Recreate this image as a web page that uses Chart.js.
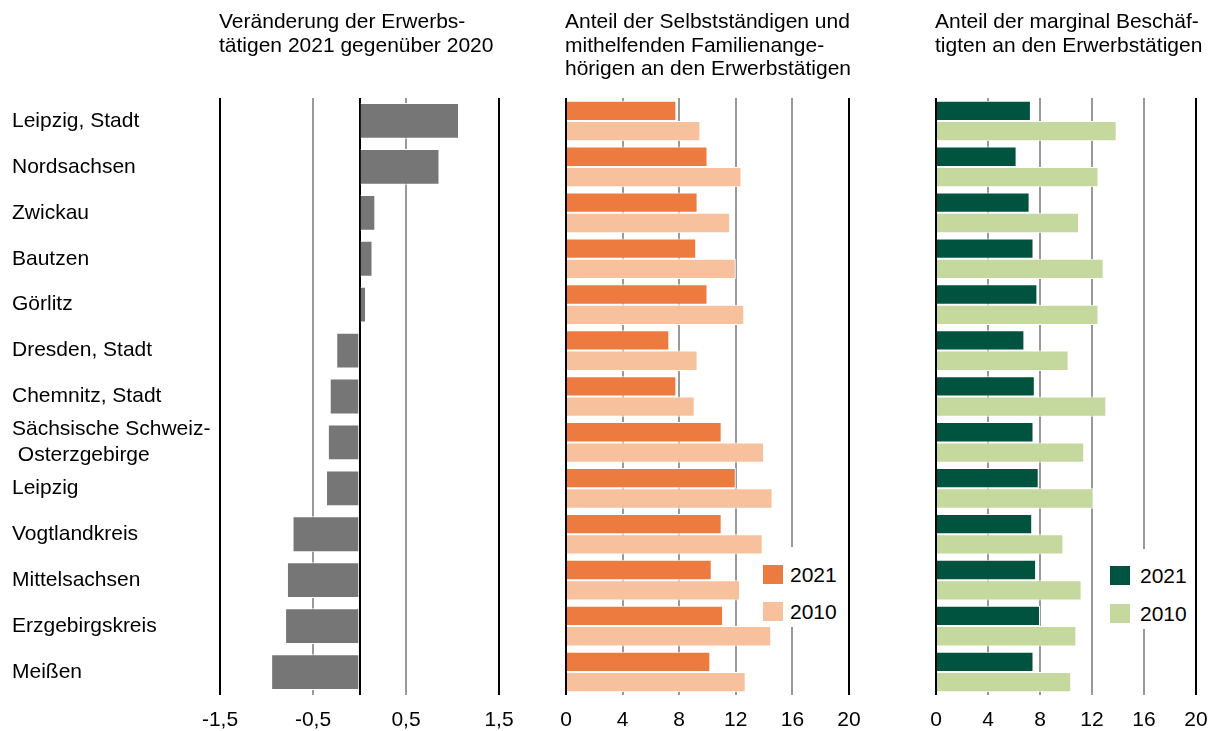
<!DOCTYPE html>
<html lang="de">
<head>
<meta charset="utf-8">
<title>Erwerbstätige in den Kreisen Sachsens</title>
<script src="https://cdn.jsdelivr.net/npm/chart.js@4.4.1/dist/chart.umd.min.js"></script>
<style>
  html, body { margin: 0; padding: 0; background: #fff; }
  #wrap { position: relative; width: 1213px; height: 731px; overflow: hidden;
          font-family: "Liberation Sans", Arial, sans-serif; color: #000; }
  .panel { position: absolute; top: 0; height: 731px; }
  .title { position: absolute; top: 9px; font-size: 21px; line-height: 23.5px; white-space: nowrap; }
  .legend { position: absolute; background: #fff; font-size: 21px; }
  .legend .item { position: absolute; height: 20px; line-height: 20px; white-space: nowrap; }
  .legend .box { display: inline-block; width: 20px; height: 19px; vertical-align: top; }
</style>
</head>
<body>
<div id="wrap">
  <div class="panel" style="left:0;width:520px"><canvas id="c1"></canvas></div>
  <div class="panel" style="left:540px;width:330px"><canvas id="c2"></canvas></div>
  <div class="panel" style="left:910px;width:303px"><canvas id="c3"></canvas></div>
</div>
<script>
(function () {
  'use strict';

  var categories = ['Leipzig, Stadt', 'Nordsachsen', 'Zwickau', 'Bautzen', 'Görlitz', 'Dresden, Stadt',
    'Chemnitz, Stadt', ['Sächsische Schweiz-', ' Osterzgebirge'], 'Leipzig', 'Vogtlandkreis',
    'Mittelsachsen', 'Erzgebirgskreis', 'Meißen'];

  // Veränderung der Erwerbstätigen 2021 gegenüber 2020 (%)
  var change2021 = [1.07, 0.86, 0.17, 0.14, 0.07, -0.25, -0.32, -0.34, -0.36, -0.72, -0.78, -0.80, -0.95];
  // Anteil Selbstständige und mithelfende Familienangehörige (%)
  var selfEmp2021 = [7.8, 10.0, 9.3, 9.2, 10.0, 7.3, 7.8, 11.0, 12.0, 11.0, 10.3, 11.1, 10.2];
  var selfEmp2010 = [9.5, 12.4, 11.6, 12.0, 12.6, 9.3, 9.1, 14.0, 14.6, 13.9, 12.3, 14.5, 12.7];
  // Anteil marginal Beschäftigte (%)
  var marginal2021 = [7.3, 6.2, 7.2, 7.5, 7.8, 6.8, 7.6, 7.5, 7.9, 7.4, 7.7, 8.0, 7.5];
  var marginal2010 = [13.9, 12.5, 11.0, 12.9, 12.5, 10.2, 13.1, 11.4, 12.1, 9.8, 11.2, 10.8, 10.4];

  var changeTicks = [-1.5, -0.5, 0, 0.5, 1.5];
  var shareTicks = [0, 4, 8, 12, 16, 20];

  var titles = [
    ['Veränderung der Erwerbs-', 'tätigen 2021 gegenüber 2020'],
    ['Anteil der Selbstständigen und', 'mithelfenden Familienange-', 'hörigen an den Erwerbstätigen'],
    ['Anteil der marginal Beschäf-', 'tigten an den Erwerbstätigen']
  ];

  var FONT = '"Liberation Sans", Arial, sans-serif';
  var GRID_GRAY = '#999999';

  Chart.defaults.font.family = FONT;
  Chart.defaults.color = '#000';

  function fmt(v) { return String(v).replace('.', ','); }

  function xScale(min, max, ticks, strong, hideZero) {
    return {
      type: 'linear',
      min: min,
      max: max,
      afterBuildTicks: function (s) { s.ticks = ticks.map(function (v) { return { value: v }; }); },
      afterFit: function (s) {
        s.height = 36;
        s.paddingLeft = 0;
        s.paddingRight = 0;
      },
      border: { display: false },
      grid: {
        drawTicks: false,
        lineWidth: 2,
        color: function (ctx) { return strong.indexOf(ctx.tick.value) >= 0 ? '#000' : GRID_GRAY; }
      },
      ticks: {
        padding: 13,
        autoSkip: false,
        maxRotation: 0,
        font: { size: 21 },
        callback: function (v) { return (hideZero && v === 0) ? '' : fmt(v); }
      }
    };
  }

  function barChart(id, datasets, x, yVisible, padding, catPct, barPct) {
    return new Chart(document.getElementById(id), {
      type: 'bar',
      data: { labels: categories, datasets: datasets },
      options: {
        indexAxis: 'y',
        responsive: true,
        maintainAspectRatio: false,
        animation: false,
        layout: { padding: padding },
        datasets: { bar: { categoryPercentage: catPct, barPercentage: barPct } },
        plugins: { legend: { display: false }, tooltip: { enabled: false } },
        scales: {
          x: x,
          y: {
            display: yVisible,
            grid: { display: false },
            border: { display: false },
            afterFit: function (s) { s.width = yVisible ? 208 : 0; },
            ticks: { crossAlign: 'far', padding: 0, autoSkip: false, font: { size: 21, lineHeight: 1.24 } }
          }
        }
      }
    });
  }

  barChart('c1', [{
    label: 'Veränderung',
    data: change2021,
    backgroundColor: '#767676',
    borderColor: '#ffffff',
    borderWidth: 1
  }], xScale(-1.5, 1.5, changeTicks, [-1.5, 0, 1.5], true), true,
  { left: 12, right: 21, top: 98, bottom: 0 }, 1, 0.78);

  var orange = [
    { label: '2021', data: selfEmp2021, color: '#ED7B3F' },
    { label: '2010', data: selfEmp2010, color: '#F8C19E' }
  ];
  var green = [
    { label: '2021', data: marginal2021, color: '#00533E' },
    { label: '2010', data: marginal2010, color: '#C5D89E' }
  ];

  function toDatasets(list) {
    return list.map(function (d) {
      return { label: d.label, data: d.data, backgroundColor: d.color, borderColor: '#ffffff', borderWidth: 1 };
    });
  }

  barChart('c2', toDatasets(orange), xScale(0, 20, shareTicks, [0, 20], false), false,
    { left: 26, right: 21, top: 98, bottom: 0 }, 0.885, 1);
  barChart('c3', toDatasets(green), xScale(0, 20, shareTicks, [0, 20], false), false,
    { left: 26, right: 17, top: 98, bottom: 0 }, 0.885, 1);

  var wrap = document.getElementById('wrap');
  var titleX = [219, 565, 935];
  titles.forEach(function (lines, i) {
    var t = document.createElement('div');
    t.className = 'title';
    t.style.left = titleX[i] + 'px';
    t.innerHTML = lines.join('<br>');
    wrap.appendChild(t);
  });

  function legend(list, left, top, width, gap, tops) {
    var el = document.createElement('div');
    el.className = 'legend';
    el.style.left = left + 'px';
    el.style.top = top + 'px';
    el.style.width = width + 'px';
    el.style.height = '80px';
    list.forEach(function (d, i) {
      var it = document.createElement('div');
      it.className = 'item';
      it.style.left = '1px';
      it.style.top = tops[i] + 'px';
      it.innerHTML = '<span class="box" style="background:' + d.color + ';margin-right:' + gap + 'px"></span>' + d.label;
      el.appendChild(it);
    });
    wrap.appendChild(el);
  }
  legend(orange, 762, 547, 85, 7, [18, 55]);
  legend(green, 1109, 549, 85, 10, [17, 55]);
})();
</script>
</body>
</html>
